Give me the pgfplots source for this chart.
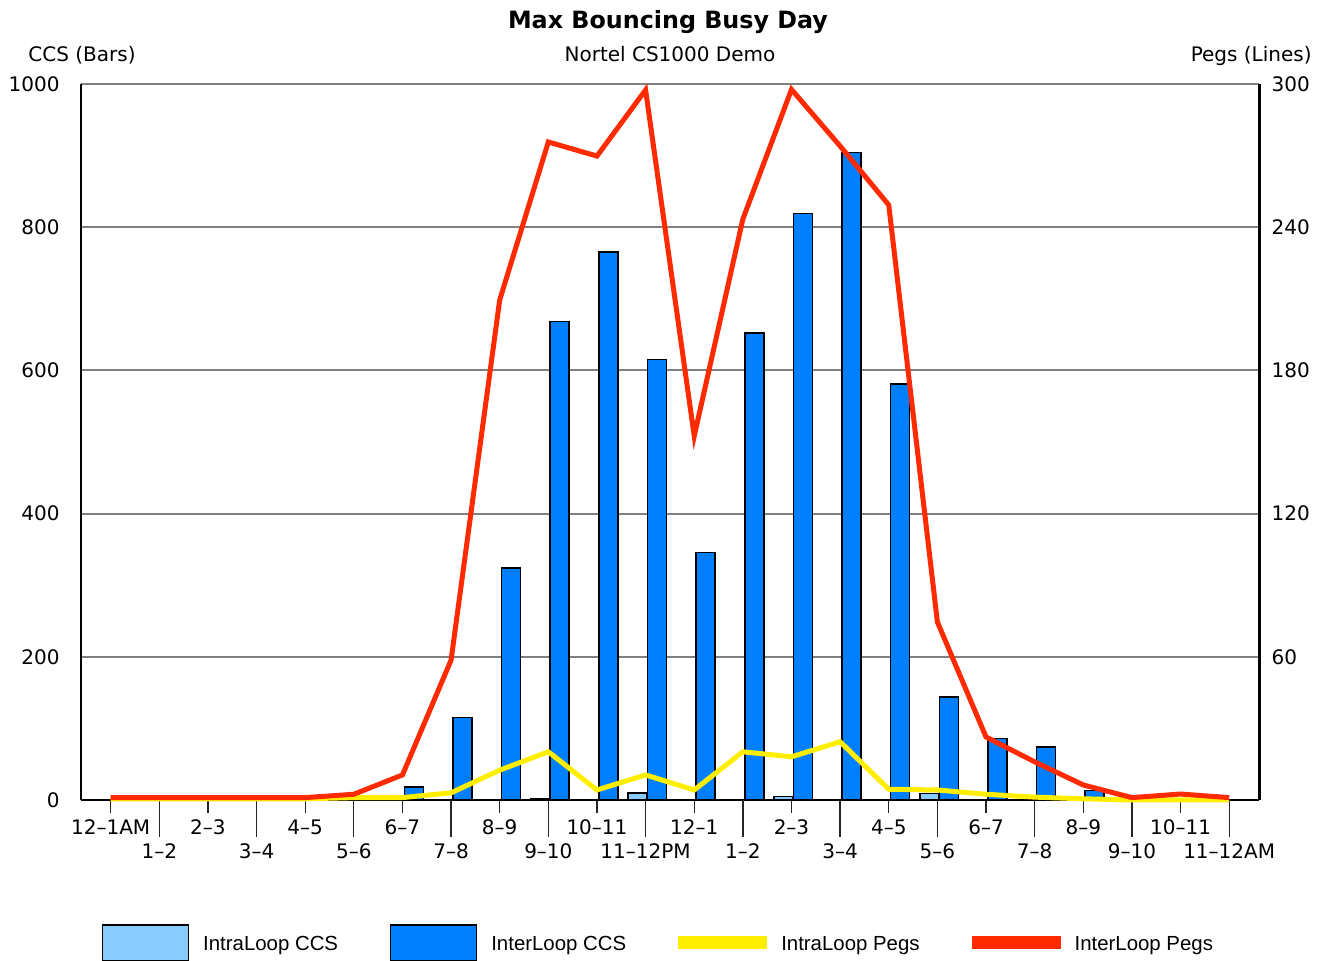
\documentclass[border=0pt]{standalone}
\usepackage{fontspec}
\setmainfont{DejaVu Sans}
\newfontfamily\legfont{Liberation Sans}
\usepackage{pgfplots}
\pgfplotsset{compat=1.18}
\definecolor{intra}{HTML}{88CCFF}
\definecolor{inter}{HTML}{0080FF}
\definecolor{ypeg}{HTML}{FFEE00}
\definecolor{rpeg}{HTML}{FF2A00}
\definecolor{gridc}{HTML}{808080}
\begin{document}
\begin{tikzpicture}[x=1pt,y=1pt]
\useasboundingbox (0,0) rectangle (662.5,480.5);
\node[anchor=base, inner sep=0pt, font=\fontsize{11.9}{14}\selectfont\bfseries] at (334,466) {Max Bouncing Busy Day};
\node[anchor=base, inner sep=0pt, font=\fontsize{10}{12}\selectfont] at (335,449.5) {Nortel CS1000 Demo};
\node[anchor=base west, inner sep=0pt, font=\fontsize{10}{12}\selectfont] at (14,449.5) {CCS (Bars)};
\node[anchor=base east, inner sep=0pt, font=\fontsize{10}{12}\selectfont] at (656,449.5) {Pegs (Lines)};
\begin{axis}[
  at={(40.5pt,80.5pt)}, anchor=south west, scale only axis,
  width=589.15pt, height=358pt,
  xmin=-0.61, xmax=23.62, ymin=0, ymax=1000,
  axis x line*=bottom, axis y line*=left,
  axis line style={-, black, line width=1.25pt},
  ytick={0,200,400,600,800,1000},
  yticklabels={0,200,400,600,800,1000},
  ymajorgrids, grid style={gridc, line width=1pt},
  ytick style={draw=none},
  tick align=outside,
  major tick length=6.5pt,
  x tick style={black!85, line width=0.65pt},
  xtick={0,2,...,22},
  xticklabels={12–1AM,2–3,4–5,6–7,8–9,10–11,12–1,2–3,4–5,6–7,8–9,10–11},
  extra x ticks={1,3,...,23},
  extra x tick labels={1–2,3–4,5–6,7–8,9–10,11–12PM,1–2,3–4,5–6,7–8,9–10,11–12AM},
  extra x tick style={major tick length=18.5pt},
  tick label style={font=\fontsize{10}{12}\selectfont},
  xticklabel style={anchor=base, inner sep=0pt, yshift=-11pt},
  yticklabel style={anchor=east, inner sep=0pt, xshift=-4pt},
  /pgf/number format/assume math mode=true,
  /pgf/number format/1000 sep={},
]
\addplot[ybar, bar width=9.5pt, bar shift=-4pt, draw=black, line width=0.75pt, fill=intra] coordinates {
 (8,1) (9,2) (11,10) (13,1) (14,5) (17,9)
};
\addplot[ybar, bar width=9.5pt, bar shift=5.7pt, draw=black, line width=0.75pt, fill=inter] coordinates {
 (6,18) (7,115) (8,324) (9,668) (10,765) (11,615) (12,346) (13,652) (14,819) (15,904)
 (16,581) (17,144) (18,86) (19,74) (20,13)
};
\end{axis}
\begin{axis}[
  at={(40.5pt,80.5pt)}, anchor=south west, scale only axis,
  width=589.15pt, height=358pt,
  xmin=-0.61, xmax=23.62, ymin=0, ymax=300,
  axis x line=none, axis y line*=right,
  axis line style={-, black, line width=1.25pt},
  ytick={60,120,180,240,300},
  yticklabels={60,120,180,240,300},
  ytick style={draw=none},
  tick label style={font=\fontsize{10}{12}\selectfont},
  yticklabel style={anchor=west, inner sep=0pt, xshift=6pt},
  clip=false,
  legend columns=4,
  legend style={at={(0.0178,-0.1997)}, anchor=west, draw=none, fill=none,
    inner sep=0pt, outer sep=0pt, font=\legfont\fontsize{10.2}{12}\selectfont,
    cells={anchor=base west}, nodes={inner sep=0pt},
    /tikz/every odd column/.append style={column sep=7pt},
    /tikz/every even column/.append style={column sep=26pt}},
]
\addlegendimage{legend image code/.code={\draw[black, line width=0.6pt, fill=intra] (0pt,-5.4pt) rectangle (43pt,12.6pt);}}
\addlegendentry{IntraLoop CCS}
\addlegendimage{legend image code/.code={\draw[black, line width=0.6pt, fill=inter] (0pt,-5.4pt) rectangle (43pt,12.6pt);}}
\addlegendentry{InterLoop CCS}
\addplot[ypeg, line width=2.5pt, mark=none, legend image code/.code={\fill[ypeg] (0pt,1.6pt) rectangle (42pt,5.6pt);}] coordinates {
 (0,0.5) (1,0.5) (2,0.5) (3,0.5) (4,0.5) (5,1) (6,1) (7,3) (8,12.5) (9,20.2) (10,4.2) (11,10.5)
 (12,4.2) (13,20.2) (14,18.1) (15,24.4) (16,4.5) (17,4.2) (18,2.4) (19,1.2) (20,0.5) (21,0) (22,0) (23,0)
};
\addlegendentry{IntraLoop Pegs}
\addplot[rpeg, line width=2.5pt, mark=none, legend image code/.code={\fill[rpeg] (0pt,1.6pt) rectangle (42pt,5.6pt);}] coordinates {
 (0,1) (1,1) (2,1) (3,1) (4,1) (5,2.4) (6,10.5) (7,58.6) (8,209.5) (9,275.7) (10,269.8) (11,297.5)
 (12,152.5) (13,243.4) (14,297.7) (15,274) (16,249.3) (17,74.6) (18,26.4) (19,16) (20,6.3) (21,1) (22,2.5) (23,1)
};
\addlegendentry{InterLoop Pegs}
\end{axis}
\end{tikzpicture}
\end{document}
